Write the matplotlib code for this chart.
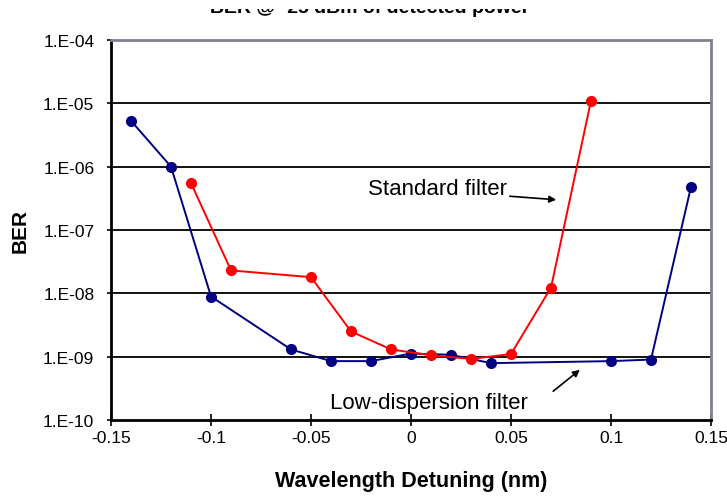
#!/usr/bin/env python3
"""
BER vs wavelength detuning for standard and low-dispersion filters
"""

import math
import matplotlib
matplotlib.use('Agg')
import matplotlib.pyplot as plt
from matplotlib.patches import Rectangle
from matplotlib.ticker import FixedLocator, FuncFormatter, NullLocator

plt.rcParams['font.family'] = ['Liberation Sans', 'DejaVu Sans']

# Low-dispersion filter (navy)
lowdisp_x = [-0.14, -0.12, -0.10, -0.06, -0.04, -0.02, 0.0, 0.02, 0.04, 0.10, 0.12, 0.14]
lowdisp_ber = [5.3e-6, 1.0e-6, 8.9e-9, 1.3e-9, 8.5e-10, 8.5e-10, 1.12e-9, 1.07e-9,
               7.9e-10, 8.5e-10, 9.0e-10, 4.8e-7]

# Standard filter (red)
standard_x = [-0.11, -0.09, -0.05, -0.03, -0.01, 0.01, 0.03, 0.05, 0.07, 0.09]
standard_ber = [5.5e-7, 2.3e-8, 1.8e-8, 2.5e-9, 1.3e-9, 1.05e-9, 9.2e-10, 1.1e-9,
                1.23e-8, 1.1e-5]

x_ticks = [-0.15, -0.1, -0.05, 0, 0.05, 0.1, 0.15]
x_tick_labels = ['-0.15', '-0.1', '-0.05', '0', '0.05', '0.1', '0.15']
y_ticks = [1e-10, 1e-9, 1e-8, 1e-7, 1e-6, 1e-5, 1e-4]


def ber_label(v, pos):
    exp = int(round(-math.log10(v)))
    return f'1.E-{exp:02d}'


fig = plt.figure(figsize=(7.27, 5.02), dpi=100)
ax = fig.add_axes([0.1527, 0.1614, 0.8253, 0.7569])

ax.set_yscale('log')
ax.set_xlim(-0.15, 0.15)
ax.set_ylim(1e-10, 1e-4)

# Horizontal grid at each decade
for yv in y_ticks[1:-1]:
    ax.axhline(yv, color='black', linewidth=1.3, zorder=1)

ax.plot(lowdisp_x, lowdisp_ber, color='#000080', linewidth=1.4,
        marker='o', markersize=7, zorder=3)
ax.plot(standard_x, standard_ber, color='#ff0000', linewidth=1.4,
        marker='o', markersize=7, zorder=4)

ax.yaxis.set_major_locator(FixedLocator(y_ticks))
ax.yaxis.set_minor_locator(NullLocator())
ax.yaxis.set_major_formatter(FuncFormatter(ber_label))
ax.set_xticks(x_ticks)
ax.set_xticklabels(x_tick_labels)

ax.tick_params(axis='y', direction='out', length=3, width=1.2, pad=9,
               labelsize=12.5, colors='black')
ax.tick_params(axis='x', direction='inout', length=8, width=1.2, pad=3,
               labelsize=12.5, colors='black')

for side in ['left', 'bottom']:
    ax.spines[side].set_color('black')
    ax.spines[side].set_linewidth(2)
for side in ['top', 'right']:
    ax.spines[side].set_color('#808090')
    ax.spines[side].set_linewidth(2)

ax.set_xlabel('Wavelength Detuning (nm)', fontsize=15.5, fontweight='bold', labelpad=18)
ax.set_ylabel('BER', fontsize=15, fontweight='bold', labelpad=10)

# Curve labels with arrows
ax.text(-0.0215, 3.7e-7, 'Standard filter', fontsize=16, ha='left', va='baseline')
ax.annotate('', xy=(0.074, 2.98e-7), xytext=(0.048, 3.44e-7),
            arrowprops=dict(arrowstyle='-|>', color='black', lw=1.2, mutation_scale=10))
ax.text(0.009, 1.55e-10, 'Low-dispersion filter', fontsize=16, ha='center', va='baseline')
ax.annotate('', xy=(0.0855, 6.6e-10), xytext=(0.070, 2.67e-10),
            arrowprops=dict(arrowstyle='-|>', color='black', lw=1.2, mutation_scale=10))

# Title, only its lower edge shows in the source picture
fig.text(0.509, 1 - 13 / 502, 'BER @ -25 dBm of detected power', fontsize=14,
         fontweight='bold', ha='center', va='baseline', zorder=1)
fig.patches.append(Rectangle((0, 1 - 9.5 / 502), 1, 9.5 / 502, transform=fig.transFigure,
                             facecolor='white', edgecolor='none', zorder=5))

fig.savefig('out.png', dpi=100)
